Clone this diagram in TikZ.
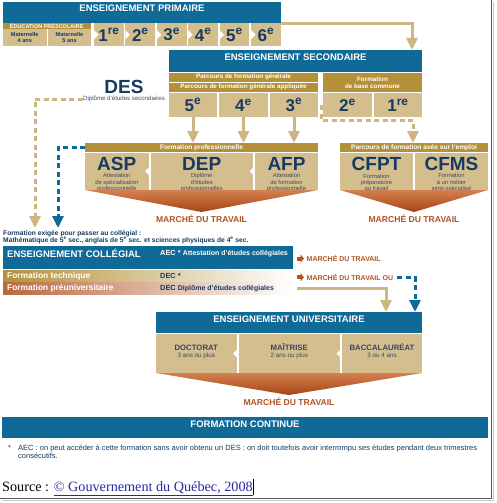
\documentclass[tikz,border=0pt]{standalone}
\usepackage{fontspec}
\setmainfont{Liberation Sans}
\newfontfamily\srcfont{Liberation Serif}
\usetikzlibrary{arrows.meta,calc}
\definecolor{qblue}{RGB}{16,106,152}
\definecolor{qtan}{RGB}{213,190,142}
\definecolor{qgold}{RGB}{180,144,56}
\definecolor{qdark}{RGB}{22,58,98}
\definecolor{qarrow}{RGB}{205,182,132}
\definecolor{qbrown}{RGB}{178,84,36}
\definecolor{qbrownd}{RGB}{165,68,22}
\definecolor{qbrownl}{RGB}{212,128,80}
\definecolor{qpre}{RGB}{186,104,62}
\definecolor{qgrey}{RGB}{62,72,92}
\definecolor{qunv}{RGB}{55,72,98}
\definecolor{qlink}{RGB}{40,40,165}
\newcommand\rbox[7]{%
  \pgfmathsetmacro\rw{#4-#2}\pgfmathsetmacro\rh{#5-#3}%
  \node[inner sep=0pt, outer sep=0pt, anchor=north west, minimum width=\rw pt, minimum height=\rh pt, #6] (#1) at (#2,#3) {#7};}
\newcommand\notchR[1]{\fill[white] (#1.west) ++(0,-4.5) -- ++(4.5,4.5) -- ++(-4.5,4.5) -- cycle;}
\newcommand\notchL[1]{\fill[white] ([xshift=-1pt]#1.west) ++(0,-4.5) -- ++(-4.5,4.5) -- ++(4.5,4.5) -- cycle;}
\begin{document}
\begin{tikzpicture}[x=1pt,y=-1pt,
  hdr/.style={text=white, font=\bfseries\fontsize{9.5}{10}\selectfont, inner sep=0pt},
  bartxt/.style={text=white, font=\bfseries\fontsize{6.3}{7}\selectfont, inner sep=0pt, align=center},
  grade/.style={text=qdark, font=\bfseries\fontsize{17}{17}\selectfont},
  big/.style={text=qdark, font=\bfseries\fontsize{19}{19}\selectfont, inner sep=0pt, text height=13.7pt, text depth=0pt},
  small/.style={text=qgrey, font=\fontsize{5.8}{6.2}\selectfont, align=center, inner sep=0pt},
  mt/.style={text=qbrown, font=\bfseries\fontsize{8.6}{9}\selectfont, inner sep=0pt},
  mts/.style={text=qbrown, font=\bfseries\fontsize{7}{7}\selectfont, inner sep=0pt, anchor=west},
  unv/.style={text=qunv, font=\bfseries\fontsize{7.8}{8}\selectfont, inner sep=0pt},
  req/.style={text=qdark, font=\bfseries\fontsize{6.7}{6.7}\selectfont, inner sep=0pt, anchor=west},
  tanline/.style={draw=qarrow, line width=3pt, -{Triangle[width=11pt,length=12pt]}},
  tandash/.style={tanline, dash pattern=on 5pt off 3.5pt},
  bluedash/.style={draw=qblue, line width=3pt, dash pattern=on 5pt off 3.5pt, -{Triangle[width=11pt,length=12pt]}},
  brarrow/.style={draw=qbrown, line width=4pt, -{Triangle[width=8pt,length=3.5pt]}},
  funnel/.style={top color=qbrownl, bottom color=qbrownd}
]
\useasboundingbox (0,0) rectangle (496,503);
\fill[white] (0,0) rectangle (496,503);

% ---------- Primaire
\rbox{prim}{3}{2}{281}{23}{fill=qblue}{}
\node[hdr] (primt) at (142,8.5) {ENSEIGNEMENT PRIMAIRE};
\rbox{presc}{3}{23.5}{90.5}{29}{fill=qgold}{}
\node[text=white, font=\bfseries\fontsize{5.5}{6}\selectfont, inner sep=0pt] (presct) at (presc.center) {ÉDUCATION PRÉSCOLAIRE};
\rbox{mat4}{3}{29.5}{46.5}{46}{fill=qtan}{}
\rbox{mat5}{48}{29.5}{91}{46}{fill=qtan}{}
\node[small, text=qdark, font=\bfseries\fontsize{5.6}{5.8}\selectfont] (mat4t) at (mat4.center) {Maternelle\\4 ans};
\node[small, text=qdark, font=\bfseries\fontsize{5.6}{5.8}\selectfont] (mat5t) at (mat5.center) {Maternelle\\5 ans};
\rbox{p1}{94}{23.5}{123.8}{46}{fill=qtan,grade}{1\textsuperscript{re}}
\rbox{p2}{125.4}{23.5}{155.2}{46}{fill=qtan,grade}{2\textsuperscript{e}}
\rbox{p3}{156.8}{23.5}{186.6}{46}{fill=qtan,grade}{3\textsuperscript{e}}
\rbox{p4}{188.2}{23.5}{218}{46}{fill=qtan,grade}{4\textsuperscript{e}}
\rbox{p5}{219.6}{23.5}{249.4}{46}{fill=qtan,grade}{5\textsuperscript{e}}
\rbox{p6}{251}{23.5}{281}{46}{fill=qtan,grade}{6\textsuperscript{e}}
\notchR{p1}\notchR{p2}\notchR{p3}\notchR{p4}\notchR{p5}\notchR{p6}

% ---------- Secondaire
\rbox{sec}{169}{50}{422}{72}{fill=qblue}{}
\node[hdr] (sect) at (295.5,57) {ENSEIGNEMENT SECONDAIRE};
\rbox{pfg}{169}{73}{318}{81.5}{fill=qgold,bartxt}{Parcours de formation générale}
\rbox{pfga}{169}{82.5}{318}{92.2}{fill=qgold,bartxt}{Parcours de formation générale appliquée}
\rbox{fbc}{323}{73}{422}{92.2}{fill=qgold,bartxt}{Formation\\de base commune}
\rbox{s5}{169}{93}{217}{117}{fill=qtan,grade}{5\textsuperscript{e}}
\rbox{s4}{219}{93}{268}{117}{fill=qtan,grade}{4\textsuperscript{e}}
\rbox{s3}{270}{93}{318}{117}{fill=qtan,grade}{3\textsuperscript{e}}
\rbox{s2}{323}{93}{372}{117}{fill=qtan,grade}{2\textsuperscript{e}}
\rbox{s1}{374}{93}{422}{117}{fill=qtan,grade}{1\textsuperscript{re}}

\draw[tanline] (p6.north east) -| (412,0 |- sec.north);

\node[big] (des) at (124,87) {DES};
\node[small, text=qgrey, font=\fontsize{6.1}{6.5}\selectfont] (desc) at (124,99) {Diplôme d'études secondaires};

% ---------- Formation professionnelle
\rbox{fp}{85}{143}{318}{152}{fill=qgold,bartxt,font=\bfseries\fontsize{6.6}{7}\selectfont}{Formation professionnelle}
\rbox{asp}{85}{152.5}{148.5}{190}{fill=qtan}{}
\rbox{dep}{150.5}{152.5}{253}{190}{fill=qtan}{}
\rbox{afp}{255}{152.5}{318}{190}{fill=qtan}{}
\notchL{dep}\notchL{afp}
\node[big] (aspt) at (asp.center |- 0,163.6) {ASP};
\node[big] (dept) at (dep.center |- 0,163.6) {DEP};
\node[big] (afpt) at (afp.center |- 0,163.6) {AFP};
\node[small] (aspd) at (asp.center |- 0,182.5) {Attestation\\de spécialisation\\professionnelle};
\node[small] (depd) at (dep.center |- 0,182.5) {Diplôme\\d'études\\professionnelles};
\node[small] (afpd) at (afp.center |- 0,182.5) {Attestation\\de formation\\professionnelle};
\shade[funnel] (asp.south west) -- (afp.south east) -- (201.5,212) -- cycle;
\node[mt] (mt1) at (201.5,218.5) {MARCHÉ DU TRAVAIL};

\draw[tanline] (s5.south) -- (s5.south |- fp.north);
\draw[tanline] (s4.south) -- (s4.south |- fp.north);
\draw[tanline] (s3.south) -- (s3.south |- fp.north);

% ---------- Parcours axé sur l'emploi
\rbox{pfae}{340}{143}{488}{152}{fill=qgold,bartxt,font=\bfseries\fontsize{6.6}{7}\selectfont}{Parcours de formation axée sur l'emploi}
\rbox{cfpt}{340}{152.5}{413}{190}{fill=qtan}{}
\rbox{cfms}{415}{152.5}{488}{190}{fill=qtan}{}
\node[big] (cfptt) at (cfpt.center |- 0,163.6) {CFPT};
\node[big] (cfmst) at (cfms.center |- 0,163.6) {CFMS};
\node[small] (cfptd) at (cfpt.center |- 0,182.5) {Formation\\préparatoire\\au travail};
\node[small] (cfmsd) at (cfms.center |- 0,182.5) {Formation\\à un métier\\semi-spécialisé};
\shade[funnel] (cfpt.south west) -- (cfms.south east) -- (414,212) -- cycle;
\node[mt] (mt2) at (414,219) {MARCHÉ DU TRAVAIL};

\coordinate (dcorner) at (413,120);
\draw[tandash] ([xshift=-2pt]s2.west) |- (dcorner) -- (dcorner |- pfae.north);

% ---------- Dashed to collégial
\coordinate (colA) at (35,228);
\coordinate (colB) at (58,228);
\draw[tandash] (desc.west) -| (colA);
\draw[bluedash] (fp.west) -| (colB);

% ---------- Collégial
\node[req] (req1) at (3,234) {Formation exigée pour passer au collégial :};
\node[req] (req2) at (3,240.3) {Mathématique de 5\textsuperscript{e} sec., anglais de 5\textsuperscript{e} sec. et sciences physiques de 4\textsuperscript{e} sec.};
\rbox{col}{3}{246}{293}{269}{fill=qblue}{}
\node[hdr, anchor=west] (colt) at (7,253.5) {ENSEIGNEMENT COLLÉGIAL};
\node[anchor=west, text=white, inner sep=0pt, font=\bfseries\fontsize{7.4}{8}\selectfont] (aec) at (160,253.5) {AEC * {\fontsize{7}{7}\selectfont Attestation d'études collégiales}};
\rbox{tech}{3}{270}{293}{282}{left color=qgold, middle color=qgold!30, right color=white}{}
\rbox{preu}{3}{282.5}{293}{294}{left color=qpre, middle color=qpre!30, right color=white}{}
\node[anchor=west, text=white, inner sep=0pt, font=\bfseries\fontsize{8.4}{9}\selectfont] (techt) at (7,276.2) {Formation technique};
\node[anchor=west, text=white, inner sep=0pt, font=\bfseries\fontsize{8.4}{9}\selectfont] (preut) at (7,288.3) {Formation préuniversitaire};
\node[anchor=west, text=qdark, inner sep=0pt, font=\bfseries\fontsize{7.4}{8}\selectfont] (dec1) at (160,276.2) {DEC *};
\node[anchor=west, text=qdark, inner sep=0pt, font=\bfseries\fontsize{7.4}{8}\selectfont] (dec2) at (160,288.3) {DEC {\fontsize{7}{7}\selectfont Diplôme d'études collégiales}};
\node[mts] (mtc1) at (306.5,258.5) {MARCHÉ DU TRAVAIL};
\node[mts] (mtc2) at (306.5,277.3) {MARCHÉ DU TRAVAIL OU};
\draw[brarrow] ([xshift=4pt]col.east |- mtc1) -- ([xshift=-2.5pt]mtc1.west);
\draw[brarrow] ([xshift=4pt]tech.east |- mtc2) -- ([xshift=-2.5pt]mtc2.west);

% ---------- Universitaire
\rbox{univ}{156}{312}{422}{333}{fill=qblue}{}
\node[hdr] (univt) at (289,319) {ENSEIGNEMENT UNIVERSITAIRE};
\rbox{doc}{156}{334}{236.5}{373}{fill=qtan}{}
\rbox{mai}{238.5}{334}{340}{373}{fill=qtan}{}
\rbox{bac}{342}{334}{422}{373}{fill=qtan}{}
\notchL{mai}\notchL{bac}
\node[unv] (doct) at (doc.center |- 0,347.5) {DOCTORAT};
\node[unv] (mait) at (mai.center |- 0,347.5) {MAÎTRISE};
\node[unv] (bact) at (bac.center |- 0,347.5) {BACCALAURÉAT};
\node[small, font=\fontsize{6.3}{6.5}\selectfont] (docd) at (doc.center |- 0,355.5) {3 ans ou plus};
\node[small, font=\fontsize{6.3}{6.5}\selectfont] (maid) at (mai.center |- 0,355.5) {2 ans ou plus};
\node[small, font=\fontsize{6.3}{6.5}\selectfont] (bacd) at (bac.center |- 0,355.5) {3 ou 4 ans};
\shade[funnel] (doc.south west) -- (bac.south east) -- (289,395) -- cycle;
\node[mt] (mt3) at (289,402) {MARCHÉ DU TRAVAIL};

\draw[tanline] ([xshift=4pt]preu.east) -| (386,0 |- univ.north);
\draw[bluedash] ([xshift=4pt]mtc2.east) -| (415,0 |- univ.north);

% ---------- Formation continue
\rbox{fc}{2}{417}{488}{438}{fill=qblue}{}
\node[hdr] (fct) at (245,424.5) {FORMATION CONTINUE};
\node[req, font=\fontsize{7.5}{6.7}\selectfont] (star) at (8,447.5) {*};
\node[req, font=\fontsize{7.5}{6.7}\selectfont, anchor=north west, align=left] (foot) at (18,444.3) {AEC : on peut accéder à cette formation sans avoir obtenu un DES : on doit toutefois avoir interrompu ses études pendant deux trimestres\\consécutifs.};

% ---------- Source
\node[anchor=base west, inner sep=0pt, font=\srcfont\fontsize{14.2}{16}\selectfont] (src) at (2,491.5) {Source : \textcolor{qlink}{\underline{© Gouvernement du Québec, 2008}}};
\draw[line width=1pt] ([xshift=1pt]src.east |- 0,479) -- ([xshift=1pt]src.east |- 0,495);

% ---------- frame
\draw[line width=1.5pt, black!22] (493.5,2) -- (493.5,500.5) -- (2,500.5);
\draw[line width=1.2pt, black!65] (491.5,0) -- (491.5,498.5) -- (0,498.5);
\end{tikzpicture}
\end{document}
